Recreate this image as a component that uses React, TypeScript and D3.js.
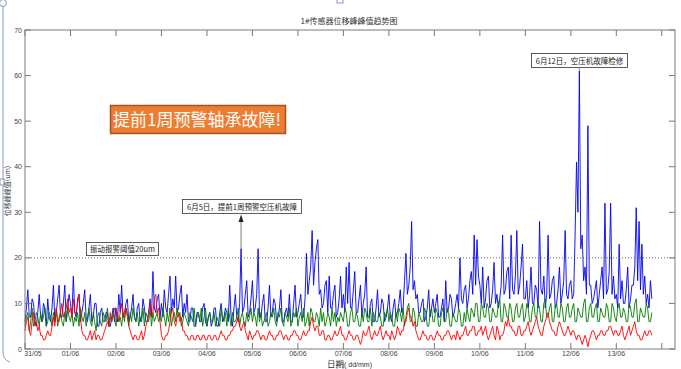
import * as d3 from 'd3';

// samples every 1/32 day, starting 31/05 00:00
const PER_DAY = 32;
const X_TICKS = ['31/05', '01/06', '02/06', '03/06', '04/06', '05/06', '06/06', '07/06', '08/06', '09/06', '10/06', '11/06', '12/06', '13/06', ''];
const Y_TICKS = [0, 10, 20, 30, 40, 50, 60, 70];
const ALARM = 20;

const BLUE = [
  6, 9, 13, 7, 7, 11, 10, 6, 5, 8, 12, 7, 6, 10, 9, 5, 11, 7, 6, 9, 14, 6, 8, 11, 14, 7, 7, 10, 14, 6, 9, 12,
  10, 7, 16, 8, 7, 11, 12, 6, 8, 10, 13, 7, 6, 9, 12, 6, 7, 10, 10, 5, 5, 8, 9, 6, 6, 8, 8, 5, 5, 7, 9, 6,
  9, 6, 12, 8, 14, 7, 8, 10, 11, 6, 7, 9, 12, 7, 6, 9, 10, 6, 7, 11, 9, 6, 6, 8, 11, 7, 17, 9, 8, 11, 12, 7,
  10, 7, 13, 9, 8, 12, 16, 8, 11, 9, 16, 8, 9, 12, 14, 7, 10, 8, 12, 6, 6, 9, 9, 5, 5, 8, 8, 6, 6, 9, 10, 6,
  5, 7, 8, 5, 6, 9, 9, 5, 5, 8, 10, 6, 7, 9, 8, 6, 14, 7, 5, 9, 12, 7, 6, 10, 22, 8, 9, 12, 15, 7, 8, 11,
  15, 8, 9, 12, 22, 7, 7, 10, 12, 6, 6, 9, 14, 7, 8, 11, 10, 6, 7, 9, 13, 6, 6, 8, 9, 7, 12, 6, 6, 10, 14, 7,
  8, 10, 12, 7, 7, 11, 21, 12, 15, 18, 26, 14, 19, 22, 24, 12, 13, 9, 10, 14, 15, 8, 16, 9, 9, 12, 14, 7, 8, 11, 16, 9,
  12, 8, 18, 10, 19, 9, 9, 13, 17, 8, 8, 11, 14, 7, 10, 12, 18, 7, 7, 10, 11, 6, 6, 9, 13, 7, 8, 11, 10, 6, 7, 9,
  12, 7, 6, 9, 11, 7, 8, 10, 13, 8, 9, 15, 21, 12, 14, 18, 28, 13, 15, 11, 12, 8, 8, 10, 11, 6, 7, 9, 13, 7, 9, 11,
  8, 10, 12, 7, 7, 9, 11, 6, 15, 8, 9, 12, 11, 7, 8, 10, 12, 9, 20, 11, 10, 13, 14, 9, 11, 15, 17, 12, 25, 14, 24, 16,
  14, 10, 18, 9, 11, 15, 16, 9, 10, 13, 19, 10, 12, 9, 11, 14, 25, 12, 13, 17, 18, 11, 25, 13, 12, 16, 26, 12, 14, 18, 23, 11,
  11, 15, 9, 12, 18, 10, 10, 14, 13, 9, 28, 13, 12, 16, 9, 12, 25, 11, 12, 15, 16, 9, 10, 13, 18, 10, 12, 15, 26, 12, 11, 14,
  15, 11, 12, 25, 41, 30, 61, 22, 25, 15, 18, 12, 49, 14, 14, 10, 11, 13, 15, 9, 12, 15, 18, 11, 32, 12, 13, 17, 32, 12, 16, 11,
  12, 9, 23, 11, 15, 10, 10, 13, 18, 9, 11, 14, 14, 18, 31, 15, 28, 13, 23, 12, 16, 10, 12, 9, 15, 11,
];

const GREEN = [
  5, 7, 8, 4, 6, 9, 5, 6, 8, 7, 5, 8, 6, 7, 9, 5, 6, 8, 7, 5, 8, 6, 9, 5, 7, 8, 6, 5, 8, 6, 9, 7,
  6, 8, 5, 7, 6, 8, 5, 9, 7, 6, 8, 5, 7, 9, 6, 5, 8, 6, 4, 7, 8, 6, 5, 8, 7, 6, 9, 5, 7, 6, 8, 7,
  5, 8, 6, 7, 5, 8, 6, 9, 7, 5, 8, 6, 9, 7, 6, 8, 5, 7, 6, 9, 5, 8, 7, 6, 9, 5, 8, 6, 7, 8, 6, 7,
  6, 9, 7, 5, 8, 6, 9, 5, 7, 8, 6, 9, 7, 8, 5, 6, 8, 7, 6, 5, 8, 7, 6, 9, 5, 7, 8, 6, 9, 5, 7, 9,
  5, 7, 8, 6, 6, 8, 5, 7, 6, 5, 9, 7, 6, 8, 5, 9, 7, 5, 8, 6, 6, 7, 9, 5, 7, 8, 6, 5, 8, 6, 7, 9,
  6, 8, 7, 5, 9, 6, 8, 5, 6, 7, 8, 5, 6, 8, 7, 9, 6, 5, 8, 7, 9, 6, 5, 8, 7, 6, 9, 5, 6, 8, 7, 9,
  5, 7, 8, 6, 9, 5, 6, 8, 5, 9, 8, 6, 6, 8, 7, 5, 9, 6, 8, 5, 6, 8, 7, 5, 9, 6, 8, 5, 7, 6, 8, 7,
  6, 9, 8, 5, 5, 8, 9, 6, 6, 8, 7, 5, 5, 8, 6, 9, 8, 6, 6, 9, 5, 8, 7, 6, 6, 8, 7, 5, 5, 8, 7, 9,
  6, 8, 7, 5, 5, 8, 6, 9, 8, 6, 9, 5, 7, 9, 10, 6, 6, 9, 8, 5, 5, 8, 7, 6, 6, 9, 8, 5, 5, 8, 9, 6,
  6, 9, 8, 5, 5, 8, 9, 6, 6, 9, 8, 5, 5, 8, 7, 6, 6, 9, 8, 5, 5, 8, 6, 9, 7, 6, 9, 8, 7, 10, 10, 6,
  6, 10, 9, 7, 7, 10, 9, 6, 6, 9, 8, 7, 7, 10, 11, 6, 6, 10, 9, 7, 7, 10, 9, 6, 6, 9, 10, 7, 7, 9, 10, 6,
  7, 10, 9, 6, 6, 9, 10, 7, 7, 10, 9, 6, 6, 10, 11, 7, 7, 9, 10, 6, 6, 9, 10, 7, 7, 10, 9, 6, 6, 9, 10, 7,
  7, 9, 10, 6, 6, 9, 8, 7, 7, 10, 11, 6, 6, 9, 10, 7, 7, 9, 10, 6, 6, 9, 8, 7, 7, 10, 9, 6, 6, 10, 9, 7,
  6, 9, 10, 7, 7, 9, 8, 6, 6, 10, 9, 7, 7, 10, 11, 6, 6, 9, 8, 7, 7, 10, 9, 6, 6, 8,
];

const RED = [
  4, 6, 7, 4, 3, 6, 8, 5, 6, 4, 5, 3, 3, 2, 2, 3, 4, 3, 3, 5, 7, 5, 9, 6, 6, 8, 10, 7, 8, 9, 11, 8,
  9, 7, 11, 8, 8, 10, 12, 7, 4, 3, 3, 2, 2, 3, 4, 2, 3, 4, 2, 3, 3, 2, 2, 3, 4, 5, 6, 5, 8, 6, 7, 9,
  9, 7, 6, 8, 10, 7, 7, 9, 8, 5, 4, 3, 2, 3, 3, 2, 2, 3, 4, 2, 3, 5, 6, 8, 10, 7, 8, 11, 12, 8, 9, 6,
  3, 2, 2, 3, 3, 4, 6, 8, 9, 6, 5, 7, 8, 6, 7, 4, 4, 3, 3, 2, 2, 3, 3, 2, 2, 3, 3, 2, 2, 3, 3, 2,
  2, 3, 3, 2, 2, 3, 3, 2, 2, 3, 4, 3, 3, 2, 2, 3, 3, 4, 4, 5, 5, 6, 7, 5, 4, 5, 6, 4, 3, 2, 4, 3,
  2, 3, 3, 4, 4, 3, 2, 3, 3, 2, 2, 3, 4, 3, 3, 2, 2, 3, 3, 4, 4, 3, 2, 3, 3, 2, 2, 3, 3, 4, 4, 3,
  3, 2, 2, 3, 4, 3, 3, 4, 4, 6, 7, 5, 4, 5, 5, 3, 3, 4, 4, 2, 2, 3, 3, 2, 2, 3, 4, 3, 3, 4, 5, 3,
  3, 2, 2, 3, 4, 3, 3, 2, 2, 3, 3, 2, 1, 2, 4, 3, 3, 4, 5, 3, 2, 3, 4, 3, 3, 4, 5, 3, 2, 3, 4, 3,
  3, 2, 4, 3, 2, 3, 5, 4, 3, 4, 4, 6, 6, 8, 9, 7, 7, 5, 6, 4, 3, 2, 2, 3, 4, 3, 3, 2, 2, 3, 3, 2,
  2, 3, 4, 3, 3, 2, 2, 3, 3, 4, 4, 3, 2, 3, 3, 2, 4, 3, 2, 3, 3, 4, 5, 3, 3, 4, 4, 5, 5, 3, 3, 4,
  4, 5, 3, 4, 5, 3, 2, 3, 4, 5, 3, 2, 5, 4, 2, 3, 3, 4, 6, 5, 7, 5, 5, 4, 4, 3, 3, 5, 5, 3, 3, 4,
  4, 5, 6, 4, 3, 4, 5, 6, 7, 5, 4, 3, 3, 5, 6, 7, 8, 6, 5, 4, 4, 3, 3, 5, 6, 5, 4, 3, 3, 4, 5, 4,
  3, 4, 4, 3, 2, 3, 3, 2, 1, 2, 3, 2, 0.5, 2, 3, 4, 4, 3, 2, 3, 3, 4, 4, 3, 3, 4, 4, 5, 5, 4, 3, 4,
  4, 3, 3, 4, 5, 3, 2, 3, 4, 5, 3, 4, 5, 6, 4, 3, 3, 2, 2, 3, 4, 3, 3, 4, 4, 3,
];

const SERIES = [
  { name: 'blue', values: BLUE, color: '#0000f0' },
  { name: 'green', values: GREEN, color: '#007a00' },
  { name: 'red', values: RED, color: '#ff0000' },
];

const W = 681;
const H = 369;
const CJK = "'Noto Sans CJK SC', sans-serif";
const LAT = "'Liberation Sans', Arial, sans-serif";

export default function App() {
  const left = 25, right = 675, top = 30, bottom = 349;
  const x = d3.scaleLinear().domain([0, 14.29]).range([left, right]);
  const y = d3.scaleLinear().domain([0, 70]).range([bottom, top]);
  const line = d3.line<number>().x((_, i) => x(i / PER_DAY)).y((d) => y(d));

  const axisColor = '#7a7a7a';
  const peakX = x(12 + 6 / PER_DAY);
  const warnX = x(4 + 24 / PER_DAY);

  return (
    <svg width={W} height={H} style={{ position: 'absolute', left: 0, top: 0, background: '#fff' }}>
      {/* slide selection frame */}
      <line x1={3} x2={3} y1={6} y2={352} stroke="#7f9cc6" strokeWidth={1} />
      <path d="M3,352 Q3,360 10,362" fill="none" stroke="#7f9cc6" />
      <circle cx={3} cy={3} r={3.5} fill="#fff" stroke="#7f9cc6" />
      <rect x={337} y={-3} width={6} height={6} fill="#fff" stroke="#7f9cc6" />
      <rect x={0} y={179} width={4} height={6} fill="#fff" stroke="#7f9cc6" />
      <rect x={337} y={364} width={6} height={6} fill="#fff" stroke="#7f9cc6" />

      <text x={349} y={24} textAnchor="middle" fontSize={8} fill="#333" fontFamily={CJK}>1#传感器位移峰峰值趋势图</text>

      {/* data */}
      <g fill="none" strokeLinejoin="bevel">
        {SERIES.map((s) => (
          <path key={s.name} d={line(s.values) ?? ''} stroke={s.color} strokeWidth={0.9} />
        ))}
      </g>

      {/* alarm threshold */}
      <line x1={left} x2={right} y1={y(ALARM)} y2={y(ALARM)} stroke="#444" strokeWidth={0.8} strokeDasharray="1,2" />

      {/* frame */}
      <rect x={left} y={top} width={right - left} height={bottom - top} fill="none" stroke={axisColor} strokeWidth={1} />
      {X_TICKS.map((t, i) => (
        <g key={'x' + i}>
          <line x1={x(i)} x2={x(i)} y1={bottom} y2={bottom - 6} stroke={axisColor} />
          <line x1={x(i)} x2={x(i)} y1={top} y2={top + 6} stroke={axisColor} />
          <text x={x(i) + (i === 0 ? 8 : 0)} y={356} textAnchor="middle" fontSize={7} fill="#444" fontFamily={LAT}>{t}</text>
        </g>
      ))}
      {Y_TICKS.map((t) => (
        <g key={'y' + t}>
          <line x1={left} x2={left + 6} y1={y(t)} y2={y(t)} stroke={axisColor} />
          <line x1={right} x2={right - 6} y1={y(t)} y2={y(t)} stroke={axisColor} />
          <text x={22} y={y(t) + 2.5} textAnchor="end" fontSize={7} fill="#444" fontFamily={LAT}>{t}</text>
        </g>
      ))}

      <text x={327} y={367} fontSize={8.5} fill="#333" fontFamily={CJK}>日期<tspan fontSize={7} fontFamily={LAT}>( dd/mm)</tspan></text>
      <text transform="translate(10,191) rotate(-90)" textAnchor="middle" fontSize={7} fill="#333" fontFamily={CJK}>位移峰峰值(um)</text>

      {/* annotations */}
      <line x1={peakX} x2={peakX} y1={68} y2={y(61)} stroke="#9090b8" strokeWidth={1} />
      <rect x={531.5} y={53.5} width={96} height={14} fill="#fff" stroke="#333" strokeWidth={0.8} />
      <text x={579.5} y={63.5} textAnchor="middle" fontSize={7.5} fill="#222" fontFamily={CJK}>6月12日，空压机故障检修</text>

      <line x1={warnX} x2={warnX} y1={218} y2={y(22)} stroke="#555" strokeWidth={0.8} />
      <path d={`M${warnX},214.5 L${warnX - 2.5},222 L${warnX + 2.5},222 Z`} fill="#222" />
      <rect x={182.5} y={199.5} width={119} height={14} fill="#fff" stroke="#333" strokeWidth={0.8} />
      <text x={242} y={209.5} textAnchor="middle" fontSize={7.5} fill="#222" fontFamily={CJK}>6月5日，提前1周预警空压机故障</text>

      <rect x={86.5} y={242.5} width={72} height={13} fill="#fff" stroke="#333" strokeWidth={0.8} />
      <text x={122.5} y={252} textAnchor="middle" fontSize={7.5} fill="#222" fontFamily={CJK}>振动报警阈值20um</text>

      <rect x={110.5} y={105.5} width={175} height={28} fill="#ED7D31" stroke="#A5541F" strokeWidth={1.5} />
      <text x={113} y={126} fontSize={17} fill="#fff" fontFamily={CJK} textLength={168} lengthAdjust="spacingAndGlyphs">提前1周预警轴承故障!</text>
    </svg>
  );
}
